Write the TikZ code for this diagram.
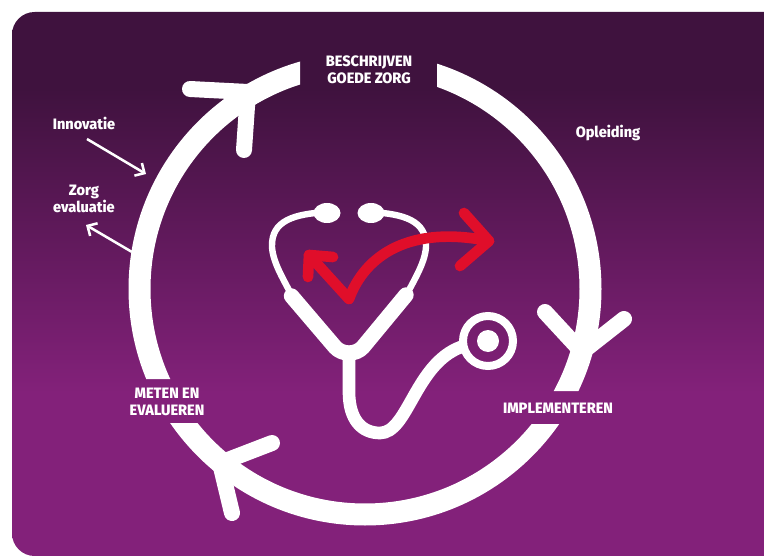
\documentclass[tikz,border=0pt]{standalone}
\usepackage{fontspec}
\usepackage{tikz}
\usetikzlibrary{arrows.meta}
\setmainfont{Fira Sans}[BoldFont={Fira Sans ExtraBold},FakeStretch=0.965]
\definecolor{plumtop}{RGB}{63,18,62}
\definecolor{plumlow}{RGB}{131,33,122}
\definecolor{alarmred}{RGB}{224,14,42}
\pgfdeclareverticalshading{plumfade}{100bp}{color(0bp)=(plumlow); color(40bp)=(plumlow); color(68bp)=(plumtop); color(100bp)=(plumtop)}
\tikzset{
  stagelabel/.style={text=white, font=\bfseries\fontsize{11.3}{12.7}\selectfont, align=center, inner sep=0pt},
  sidelabel/.style={text=white, font=\bfseries\fontsize{11.3}{12.7}\selectfont, align=center, inner sep=0pt},
  ringline/.style={white, line width=16.5pt},
  headline/.style={white, line width=12pt, line cap=round},
  sidearrow/.style={white, line width=1.9pt, -{Straight Barb[length=5.5pt,width=11pt,line width=1.9pt]}},
  tubeline/.style={white, line cap=round}
}
\begin{document}
\begin{tikzpicture}[x=0.75pt,y=-0.75pt]
      \useasboundingbox (0,0) rectangle (764,556);
      \shade [shading=plumfade] (764,556) [rounded corners=17pt] -- (12,556) -- (12,12) [sharp corners] -- (764,12) -- cycle;
      \begin{scope}[even odd rule]
        \clip (0,0) rectangle (764,556)
          (300,30) rectangle (437,120)
          (140,379) rectangle (200,423)
          (530,391) rectangle (610,424);
        \draw [ringline] (365,289) circle (225.5);
      \end{scope}
      \coordinate (topbarba) at (190,89);
      \coordinate (toptip) at (248,92);
      \coordinate (topbarbb) at (244,150);
      \coordinate (rightbarba) at (545,312);
      \coordinate (righttip) at (582,352);
      \coordinate (rightbarbb) at (624,319);
      \coordinate (lowbarba) at (272,443);
      \coordinate (lowtip) at (220,463);
      \coordinate (lowbarbb) at (232,513);
      \draw [headline] (topbarba) -- (toptip) -- (topbarbb);
      \draw [headline] (rightbarba) -- (righttip) -- (rightbarbb);
      \draw [headline] (lowbarba) -- (lowtip) -- (lowbarbb);
      \node [stagelabel] (beschrijven) at (369,69.5) {BESCHRIJVEN\\GOEDE ZORG};
      \node [stagelabel] (implementeren) at (558,408) {IMPLEMENTEREN};
      \node [stagelabel] (meten) at (167,401.5) {METEN EN\\EVALUEREN};
      \node [sidelabel] (opleiding) at (608,133.5) {Opleiding};
      \node [sidelabel] (innovatie) at (84,123.5) {Innovatie};
      \node [sidelabel] (evaluatie) at (84,198.5) {Zorg\\evaluatie};
      \coordinate (innovatiestart) at (87,139);
      \coordinate (innovatieend) at (146,174);
      \coordinate (evaluatiestart) at (132,252);
      \coordinate (evaluatieend) at (86,225);
      \draw [sidearrow] (innovatiestart) -- (innovatieend);
      \draw [sidearrow] (evaluatiestart) -- (evaluatieend);
      \fill [white] (327,213) ellipse (13.5 and 10);
      \fill [white] (371,213) ellipse (13.5 and 10);
      \draw [tubeline, line width=4.8pt] (327,212) .. controls (295,214) and (271,220) .. (272,247) .. controls (273,263) and (284,280) .. (292,296);
      \draw [tubeline, line width=4.8pt] (371,212) .. controls (403,214) and (427,220) .. (426,247) .. controls (425,263) and (414,280) .. (406,296);
      \draw [tubeline, line width=11.5pt, line join=round] (291.5,296) -- (335,347) .. controls (342,355) and (356,355) .. (363,347) -- (406,295);
      \draw [tubeline, line width=9.5pt] (349,354) -- (349,392) .. controls (349,420) and (362,433) .. (380,433) .. controls (408,433) and (415,364) .. (461,347);
      \draw [white, line width=6pt] (488,341) circle (25);
      \fill [white] (488,341) circle (11);
      \coordinate (checktip) at (349,299);
      \coordinate (uphead) at (309,255);
      \coordinate (arrowhead) at (489,241);
      \draw [alarmred, line width=8pt, line cap=round] (arrowhead) .. controls (410,225) and (365,255) .. (checktip);
      \draw [alarmred, line width=8pt, line cap=round, line join=round] (checktip) -- (uphead);
      \draw [alarmred, line width=8pt, line cap=round, line join=round] (308,277) -- (uphead) -- (333,257);
      \draw [alarmred, line width=8pt, line cap=round, line join=round] (464,213) -- (arrowhead) -- (460,266);
      \end{tikzpicture}
\end{document}
